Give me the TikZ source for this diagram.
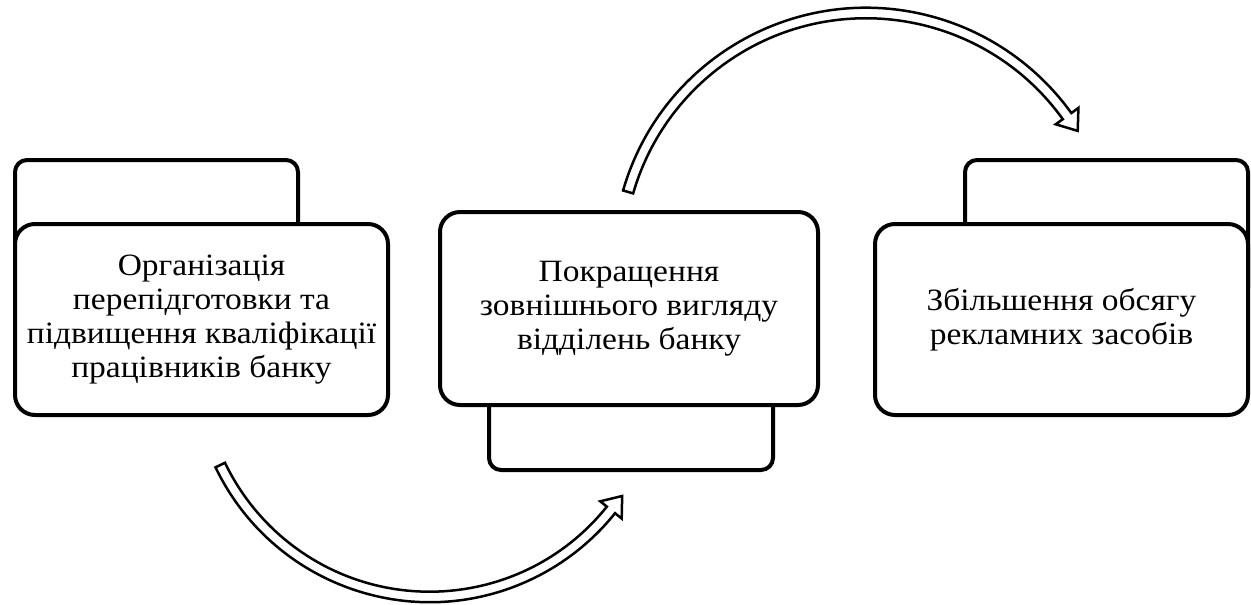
\documentclass[tikz,border=0pt]{standalone}
\usepackage{fontspec}
\setmainfont{Liberation Serif}[FakeStretch=1.08]
\usetikzlibrary{calc}

\tikzset{
  card/.style={draw, line width=4pt, rounded corners=20pt, fill=white, align=center,
    inner sep=0pt, font=\fontsize{31}{34}\selectfont},
  tab/.style={draw, line width=4pt, rounded corners=12pt, fill=white},
  bentarrow/.style={draw, line width=2.5pt, fill=white, line join=miter}
}

\begin{document}
\begin{tikzpicture}[x=1pt,y=-1pt]
  \useasboundingbox (0,0) rectangle (1251,605);

  % back tabs
  \node[tab, minimum width=283pt, minimum height=140pt] (orgtab) at (156.5,230) {};
  \node[tab, minimum width=284pt, minimum height=170pt] (looktab) at (631,385) {};
  \node[tab, minimum width=283pt, minimum height=140pt] (advtab) at (1106.5,230) {};

  % front cards
  \node[card, minimum width=373pt, minimum height=191pt] (org) at (201.5,319.5)
    {Організація\\перепідготовки та\\підвищення кваліфікації\\працівників банку};
  \node[card, minimum width=378pt, minimum height=193pt] (look) at (629,308.5)
    {Покращення\\зовнішнього вигляду\\відділень банку};
  \node[card, minimum width=373pt, minimum height=191pt] (adv) at (1061.5,319.5)
    {Збільшення обсягу\\рекламних засобів};

  % curved block arrows
  \coordinate (lowc) at (429.7,364.7);
  \coordinate (highc) at (866,260.6);
  \draw[bentarrow] ($(lowc)+(154.4:237.5)$) arc[start angle=154.4, end angle=38.7, radius=237.5]
    -- ($(lowc)+(38.7:246)$) -- ($(lowc)+(34.3:233)$) -- ($(lowc)+(38.7:218.5)$)
    -- ($(lowc)+(38.7:227)$) arc[start angle=38.7, end angle=154.4, radius=227] -- cycle;
  \draw[bentarrow] ($(highc)+(-163.9:252.85)$) arc[start angle=-163.9, end angle=-35.7, radius=252.85]
    -- ($(highc)+(-35.7:261.6)$) -- ($(highc)+(-31.5:248.3)$) -- ($(highc)+(-35.7:233.6)$)
    -- ($(highc)+(-35.7:242.35)$) arc[start angle=-35.7, end angle=-163.9, radius=242.35] -- cycle;
\end{tikzpicture}
\end{document}
